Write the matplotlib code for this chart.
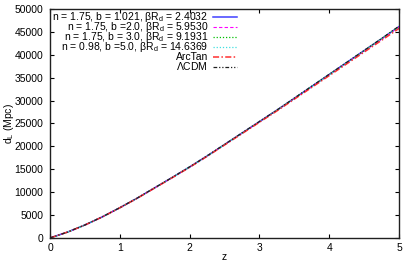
import matplotlib
matplotlib.use("Agg")
import matplotlib.pyplot as plt

plt.rcParams["font.family"] = ["Liberation Sans", "DejaVu Sans"]
plt.rcParams["mathtext.fontset"] = "custom"
plt.rcParams["mathtext.rm"] = "Liberation Sans"
plt.rcParams["mathtext.it"] = "Liberation Sans"

# redshift grid and luminosity distances (Mpc)
z = [0, 0.25, 0.5, 0.75, 1.0, 1.25, 1.5, 1.75, 2.0, 2.25, 2.5,
     2.75, 3.0, 3.25, 3.5, 3.75, 4.0, 4.25, 4.5, 4.75, 5.0]
dl_b1 = [0, 1270, 2830, 4610, 6600, 8700, 10950, 13200, 15500, 17900, 20400,
         22900, 25400, 27900, 30500, 33100, 35700, 38300, 40900, 43500, 46150]
dl_b2 = [0, 1270, 2828, 4606, 6594, 8690, 10935, 13180, 15475, 17870, 20365,
         22860, 25355, 27850, 30440, 33030, 35620, 38210, 40800, 43390, 46050]
dl_b3 = [0, 1270, 2830, 4610, 6600, 8702, 10952, 13204, 15505, 17906, 20407,
         22908, 25410, 27912, 30513, 33115, 35717, 38320, 40922, 43525, 46200]
dl_b5 = [0, 1269, 2826, 4603, 6590, 8685, 10928, 13172, 15466, 17860, 20354,
         22848, 25342, 27836, 30424, 33012, 35600, 38188, 40776, 43364, 46000]
dl_atan = [0, 1267, 2820, 4592, 6575, 8665, 10900, 13140, 15425, 17810, 20290,
           22770, 25250, 27730, 30300, 32870, 35440, 38010, 40580, 43150, 45750]
dl_lcdm = [0, 1271, 2832, 4613, 6605, 8707, 10958, 13210, 15512, 17914, 20416,
           22918, 25420, 27922, 30525, 33128, 35731, 38334, 40937, 43540, 46250]

labels = [
    r"n = 1.75, b = 1.021, $\beta$R$_d$ = 2.4032",
    r"n = 1.75, b =2.0, $\beta$R$_d$ = 5.9530",
    r"n = 1.75, b = 3.0, $\beta$R$_d$ = 9.1931",
    r"n = 0.98, b =5.0, $\beta$R$_d$ = 14.6369",
    "ArcTan",
    r"$\Lambda$CDM",
]

series = [dl_b1, dl_b2, dl_b3, dl_b5, dl_atan, dl_lcdm]
colors = ["#4040ff", "#ff00ff", "#00c000", "#40e0e0", "#ff3030", "#202020"]
styles = ["-", (0, (3, 2)), (0, (1, 1.5)), (0, (1, 1.5)),
          (0, (4, 1.5, 1, 1.5)), (0, (3, 1.5, 1, 1.5, 1, 1.5))]
widths = [1.1, 0.8, 0.9, 0.9, 1.1, 0.9]

fig = plt.figure(figsize=(4.14, 2.62), dpi=100)
ax = fig.add_axes([0.121, 0.092, 0.843, 0.874])

for dl, c, ls, lw in zip(series, colors, styles, widths):
    ax.plot(z, dl, color=c, ls=ls, lw=lw)

ax.set_xlim(0, 5)
ax.set_ylim(0, 50000)
ax.set_xticks([0, 1, 2, 3, 4, 5])
ax.set_yticks(range(0, 50001, 5000))
ax.tick_params(direction="in", top=True, right=True, labelsize=7.5, length=3,
               width=0.8)
ax.tick_params(axis="x", pad=4)
ax.tick_params(axis="y", pad=5)
for s in ax.spines.values():
    s.set_linewidth(1.0)
    s.set_color("#202020")

ax.set_xlabel("z", fontsize=7.5)
ax.xaxis.set_label_coords(0.5, -0.062)
ax.set_ylabel(r"d$_L$ (Mpc)", fontsize=7.5)
ax.yaxis.set_label_coords(-0.098, 0.5)

# gnuplot-style key: right-aligned text, sample line to its right
row_h = 0.0432
text_x, line_x0, line_x1 = 0.453, 0.466, 0.535
for i, (lab, c, ls, lw) in enumerate(zip(labels, colors, styles, widths)):
    yb = 0.95 - i * row_h
    ax.text(text_x, yb, lab, transform=ax.transAxes,
            ha="right", va="baseline", fontsize=7.5)
    ax.plot([line_x0, line_x1], [yb + 0.013, yb + 0.013], transform=ax.transAxes,
            color=c, ls=ls, lw=lw, clip_on=False)

fig.savefig("out.png", dpi=100)
